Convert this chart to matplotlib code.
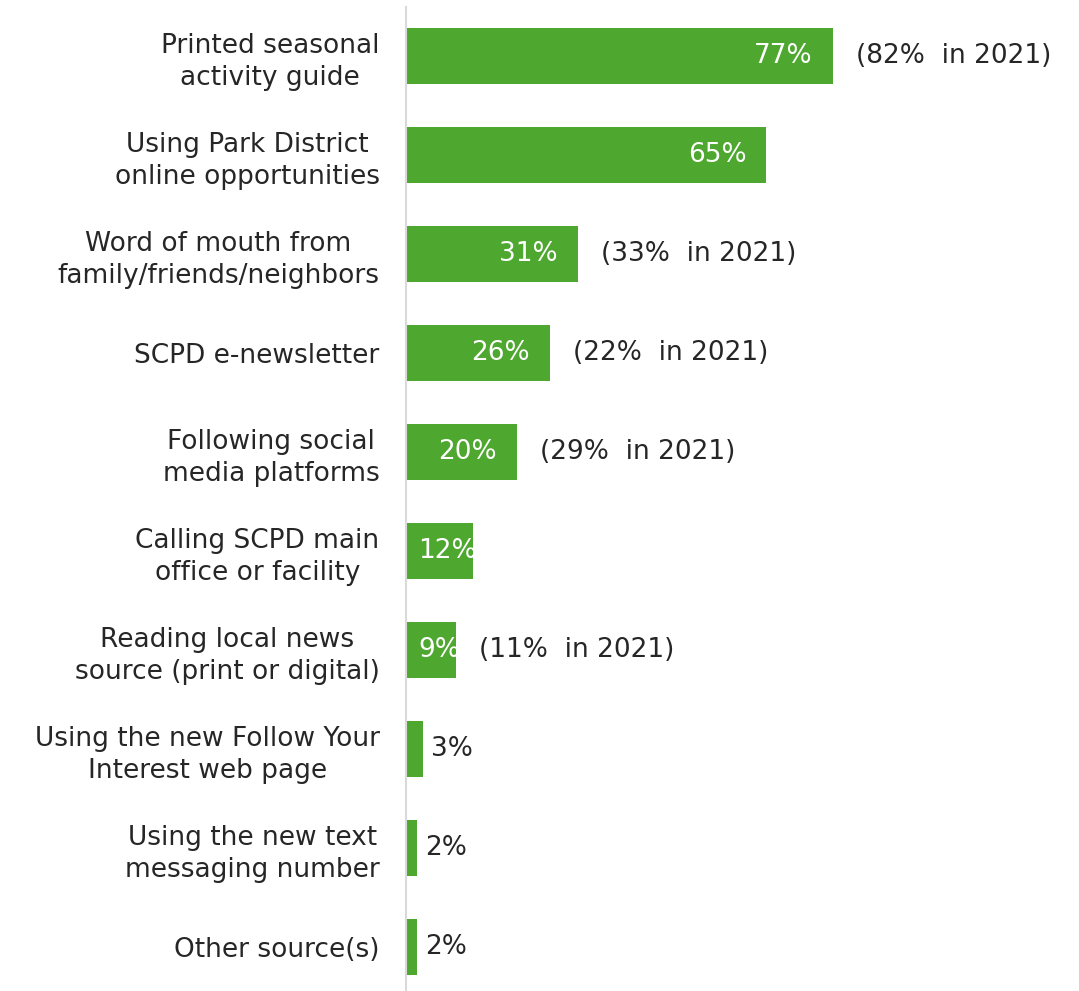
import matplotlib
matplotlib.use("Agg")
import matplotlib.pyplot as plt

# data
categories = [
    "Printed seasonal\nactivity guide",
    "Using Park District\nonline opportunities",
    "Word of mouth from\nfamily/friends/neighbors",
    "SCPD e-newsletter",
    "Following social\nmedia platforms",
    "Calling SCPD main\noffice or facility",
    "Reading local news\nsource (print or digital)",
    "Using the new Follow Your\nInterest web page",
    "Using the new text\nmessaging number",
    "Other source(s)",
]
values = [77, 65, 31, 26, 20, 12, 9, 3, 2, 2]
values_2021 = [82, None, 33, 22, 29, None, 11, None, None, None]

BAR_COLOR = "#4ea72e"
TEXT_COLOR = "#262626"
FONT = "DejaVu Sans"
FS = 19


def main():
    fig = plt.figure(figsize=(10.79, 9.91), dpi=100)
    ax = fig.add_axes([406 / 1079, 0.0, 1 - 406 / 1079, 1 - 6.5 / 991])

    y = list(range(len(categories)))
    ax.barh(y, values, height=0.57, color=BAR_COLOR)

    px_per_unit = 5.545
    ax.set_xlim(0, (1079 - 406) / px_per_unit)
    ax.set_ylim(9 + 44 / 99, -0.5)

    for i, v in enumerate(values):
        if v >= 15:
            ax.annotate(f"{v}%", (v, i), xytext=(-20, 0), textcoords="offset pixels",
                        ha="right", va="center", color="white", fontsize=FS,
                        family=FONT)
        elif v >= 5:
            ax.annotate(f"{v}%", (0, i), xytext=(12, 0), textcoords="offset pixels",
                        ha="left", va="center", color="white", fontsize=FS,
                        family=FONT)
        else:
            ax.annotate(f"{v}%", (v, i), xytext=(8, 0), textcoords="offset pixels",
                        ha="left", va="center", color=TEXT_COLOR, fontsize=FS,
                        family=FONT)

        p = values_2021[i]
        if p is not None:
            ax.annotate(f"({p}%  in 2021)", (v, i), xytext=(23, 0), textcoords="offset pixels",
                        ha="left", va="center", color=TEXT_COLOR, fontsize=FS,
                        family=FONT)

    ax.set_yticks(y)
    ax.set_yticklabels(categories, fontsize=FS, color=TEXT_COLOR, family=FONT,
                       linespacing=1.3, multialignment="center")
    ax.tick_params(axis="y", length=0, pad=19)
    ax.set_xticks([])

    for s in ["top", "right", "bottom"]:
        ax.spines[s].set_visible(False)
    ax.spines["left"].set_color("#d9d9d9")
    ax.spines["left"].set_linewidth(1.5)

    fig.savefig("out.png", dpi=100)


if __name__ == "__main__":
    main()
